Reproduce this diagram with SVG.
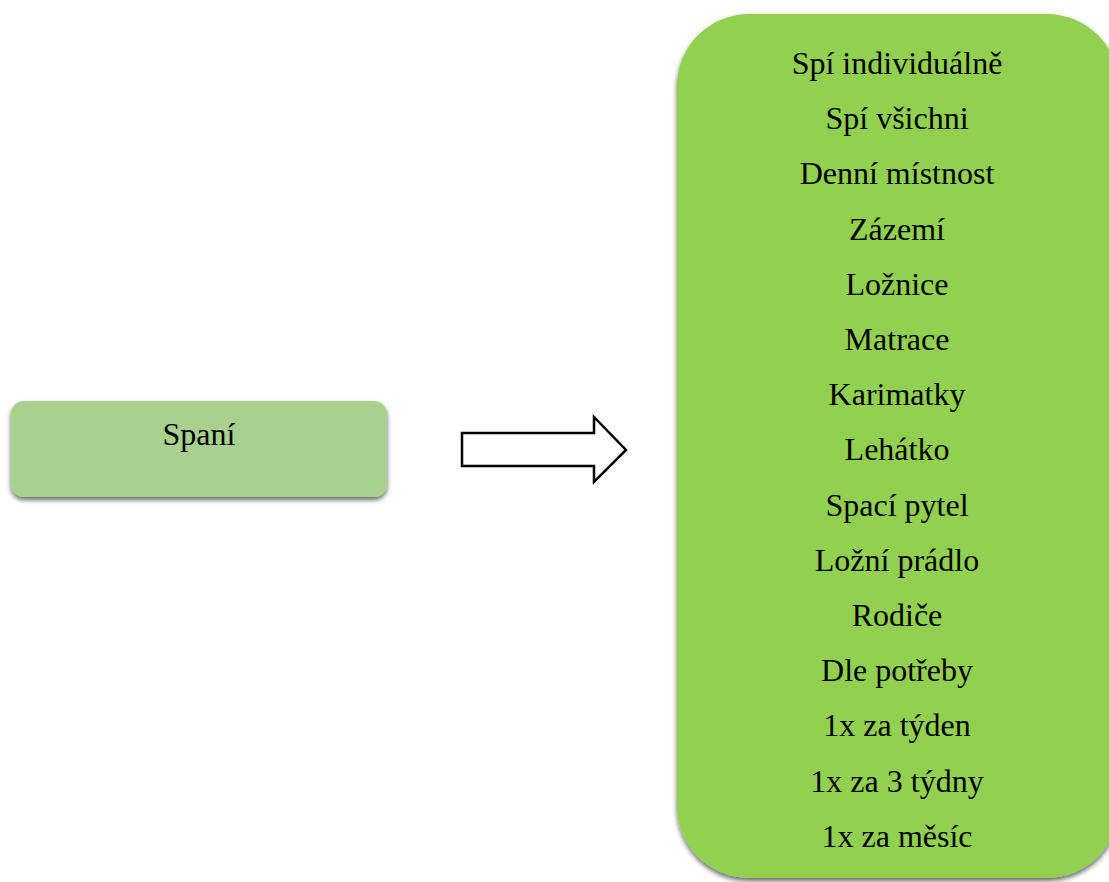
<svg xmlns="http://www.w3.org/2000/svg" width="1109" height="882" viewBox="0 0 1109 882">
<defs>
<filter id="sh" x="-10%" y="-10%" width="120%" height="130%">
<feGaussianBlur in="SourceAlpha" stdDeviation="2.5"/>
<feOffset dx="0" dy="3" result="b"/>
<feComponentTransfer><feFuncA type="linear" slope="0.6"/></feComponentTransfer>
<feMerge><feMergeNode/><feMergeNode in="SourceGraphic"/></feMerge>
</filter>
<style>
text{font-family:"Liberation Serif","Times New Roman",serif;font-size:32px;fill:#000;text-anchor:middle}
</style>
</defs>
<rect width="1109" height="882" fill="#fff"/>
<g id="node-spani">
<rect x="11" y="401" width="376" height="96" rx="13" fill="#A9D18E" filter="url(#sh)"/>
<text x="199" y="445">Spaní</text>
</g>
<g id="connectors">
<path d="M462,433 L594,433 L594,417 L626,450 L594,482 L594,466 L462,466 Z" fill="#fff" stroke="#000" stroke-width="2.5" stroke-linejoin="miter"/>
</g>
<g id="node-list">
<rect x="677" y="14" width="442" height="864" rx="72" fill="#92D050" filter="url(#sh)"/>
<text x="897" y="74">Spí individuálně</text>
<text x="897" y="129">Spí všichni</text>
<text x="897" y="184">Denní místnost</text>
<text x="897" y="240">Zázemí</text>
<text x="897" y="295">Ložnice</text>
<text x="897" y="350">Matrace</text>
<text x="897" y="405">Karimatky</text>
<text x="897" y="460">Lehátko</text>
<text x="897" y="516">Spací pytel</text>
<text x="897" y="571">Ložní prádlo</text>
<text x="897" y="626">Rodiče</text>
<text x="897" y="681">Dle potřeby</text>
<text x="897" y="736">1x za týden</text>
<text x="897" y="792">1x za 3 týdny</text>
<text x="897" y="847">1x za měsíc</text>
</g>
</svg>
